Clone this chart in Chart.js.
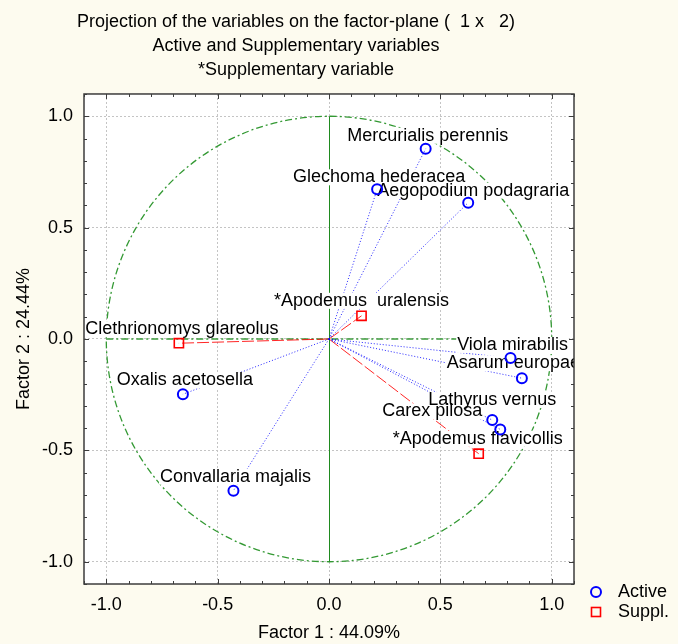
<!DOCTYPE html>
<html>
<head>
<meta charset="utf-8">
<script src="https://cdn.jsdelivr.net/npm/chart.js@4.4.0/dist/chart.umd.min.js"></script>
<style>
  html, body { margin: 0; padding: 0; background: #fdfbef; }
  #wrap { width: 678px; height: 644px; }
</style>
</head>
<body>
<div id="wrap"><canvas id="factorPlane" width="678" height="644"></canvas></div>
<script>
// active variables (factor coordinates)
const activeNames = ['Mercurialis perennis', 'Glechoma hederacea', 'Aegopodium podagraria',
  'Viola mirabilis', 'Asarum europaeum', 'Lathyrus vernus', 'Carex pilosa',
  'Oxalis acetosella', 'Convallaria majalis'];
const activeF1 = [0.434, 0.216, 0.625, 0.815, 0.866, 0.733, 0.769, -0.656, -0.429];
const activeF2 = [0.854, 0.672, 0.612, -0.085, -0.176, -0.364, -0.406, -0.248, -0.681];

// supplementary variables
const supplNames = ['Clethrionomys glareolus', '*Apodemus  uralensis', '*Apodemus flavicollis'];
const supplF1 = [-0.674, 0.146, 0.672];
const supplF2 = [-0.019, 0.104, -0.515];

const seriesNames = ['Active', 'Suppl.'];
const tickValues = [-1.0, -0.5, 0.0, 0.5, 1.0];
const tickLabels = ['-1.0', '-0.5', '0.0', '0.5', '1.0'];
const titleLines = ['Projection of the variables on the factor-plane (  1 x   2)',
  'Active and Supplementary variables', '*Supplementary variable'];
const xTitle = 'Factor 1 : 44.09%';
const yTitle = 'Factor 2 : 24.44%';

// label placement relative to the marker (pixels)
const activeLabelOffsets = [[2, -13], [2, -12], [5, -12], [2, -13], [4, -15], [0, -20], [-68, -18], [2, -14], [2, -14]];
const supplLabelOffsets = [[3, -14], [0, -15], [-1, -15]];

const FONT = '"Liberation Sans", Arial, sans-serif';
const BLUE = '#0000ff';
const RED = '#ff0000';

const vec = (f1, f2, i) => [{ x: 0, y: 0 }, { x: f1[i], y: f2[i] }];

const lineSets = [];
activeNames.forEach((n, i) => lineSets.push({
  label: n, data: vec(activeF1, activeF2, i), showLine: true,
  borderColor: 'rgba(0,0,255,0.85)', borderWidth: 1, borderDash: [1, 2], pointRadius: 0
}));
supplNames.forEach((n, i) => lineSets.push({
  label: n, data: vec(supplF1, supplF2, i), showLine: true,
  borderColor: 'rgba(255,0,0,0.85)', borderWidth: 1, borderDash: [12, 3], pointRadius: 0
}));

const pointSets = [
  { label: seriesNames[0], data: activeF1.map((v, i) => ({ x: v, y: activeF2[i] })),
    pointStyle: 'circle', pointRadius: 5, pointBorderWidth: 2,
    borderColor: BLUE, backgroundColor: 'rgba(0,0,0,0)', showLine: false },
  { label: seriesNames[1], data: supplF1.map((v, i) => ({ x: v, y: supplF2[i] })),
    pointStyle: 'rect', pointRadius: 6.5, pointBorderWidth: 1.6,
    borderColor: RED, backgroundColor: 'rgba(0,0,0,0)', showLine: false }
];

const tickFont = { family: FONT, size: 18 };

const plotDecor = {
  id: 'plotDecor',
  beforeDraw(chart) {
    const { ctx, chartArea: a } = chart;
    ctx.save();
    ctx.fillStyle = '#fdfbef';
    ctx.fillRect(0, 0, chart.width, chart.height);
    ctx.fillStyle = '#ffffff';
    ctx.fillRect(a.left, a.top, a.right - a.left, a.bottom - a.top);
    ctx.restore();
  },
  beforeDatasetsDraw(chart) {
    const { ctx, scales: { x, y } } = chart;
    const cx = x.getPixelForValue(0), cy = y.getPixelForValue(0);
    const rx = x.getPixelForValue(1) - cx, ry = cy - y.getPixelForValue(1);
    ctx.save();
    // unit circle
    ctx.strokeStyle = '#339933';
    ctx.lineWidth = 1.3;
    ctx.setLineDash([7, 3, 2, 3]);
    ctx.beginPath();
    ctx.ellipse(cx, cy, rx, ry, 0, 0, Math.PI * 2);
    ctx.stroke();
    // horizontal axis through origin
    ctx.strokeStyle = '#3c9c3c';
    ctx.lineWidth = 1.4;
    ctx.beginPath();
    ctx.moveTo(x.getPixelForValue(-1), cy);
    ctx.lineTo(x.getPixelForValue(1), cy);
    ctx.stroke();
    // vertical axis through origin
    ctx.setLineDash([]);
    ctx.strokeStyle = '#1f8a1f';
    ctx.lineWidth = 1;
    ctx.beginPath();
    ctx.moveTo(Math.round(cx) + 0.5, y.getPixelForValue(1));
    ctx.lineTo(Math.round(cx) + 0.5, y.getPixelForValue(-1));
    ctx.stroke();
    ctx.restore();
  },
  beforeDatasetDraw(chart, args) {
    if (args.index !== 1) return;
    const { ctx, chartArea: a, scales: { x, y } } = chart;
    ctx.save();
    ctx.beginPath();
    ctx.rect(a.left, a.top, a.right - a.left, a.bottom - a.top);
    ctx.clip();
    ctx.font = '18px ' + FONT;
    ctx.textAlign = 'center';
    ctx.textBaseline = 'middle';
    const items = [];
    activeNames.forEach((n, i) => items.push([n, activeF1[i], activeF2[i], activeLabelOffsets[i]]));
    supplNames.forEach((n, i) => items.push([n, supplF1[i], supplF2[i], supplLabelOffsets[i]]));
    const placed = items.map(([n, f1, f2, o]) => [n, x.getPixelForValue(f1) + o[0], y.getPixelForValue(f2) + o[1]]);
    ctx.fillStyle = '#ffffff';
    placed.forEach(([n, px, py]) => {
      const w = ctx.measureText(n).width;
      ctx.fillRect(px - w / 2 - 1, py - 8, w + 2, 16);
    });
    ctx.fillStyle = '#000000';
    placed.forEach(([n, px, py]) => ctx.fillText(n, px, py));
    ctx.restore();
  },
  afterDraw(chart) {
    const { ctx, chartArea: a, scales: { x, y } } = chart;
    ctx.save();
    ctx.strokeStyle = '#3c3c3c';
    ctx.lineWidth = 1;
    // inward ticks every 0.1 on all four sides
    ctx.beginPath();
    for (let k = -11; k <= 11; k++) {
      const v = k / 10;
      const len = k % 5 === 0 ? 5 : 3;
      const px = Math.round(x.getPixelForValue(v)) + 0.5;
      const py = Math.round(y.getPixelForValue(v)) + 0.5;
      ctx.moveTo(px, a.bottom); ctx.lineTo(px, a.bottom - len);
      ctx.moveTo(px, a.top); ctx.lineTo(px, a.top + len);
      ctx.moveTo(a.left, py); ctx.lineTo(a.left + len, py);
      ctx.moveTo(a.right, py); ctx.lineTo(a.right - len, py);
    }
    ctx.stroke();
    ctx.lineWidth = 1.5;
    ctx.strokeRect(a.left, a.top, a.right - a.left, a.bottom - a.top);

    // legend
    const lx = a.right + 22, ly = a.bottom + 8;
    ctx.lineWidth = 2;
    ctx.strokeStyle = BLUE;
    ctx.beginPath();
    ctx.arc(lx, ly, 5, 0, Math.PI * 2);
    ctx.stroke();
    ctx.lineWidth = 1.6;
    ctx.strokeStyle = RED;
    ctx.strokeRect(lx - 4.5, ly + 20 - 4.5, 9, 9);
    ctx.fillStyle = '#000';
    ctx.font = '18px ' + FONT;
    ctx.textAlign = 'left';
    ctx.textBaseline = 'middle';
    ctx.fillText(seriesNames[0], lx + 22, ly);
    ctx.fillText(seriesNames[1], lx + 22, ly + 20);
    ctx.restore();
  }
};

const setTicks = scale => { scale.ticks = tickValues.map(v => ({ value: v })); };

new Chart(document.getElementById('factorPlane'), {
  type: 'scatter',
  data: { datasets: pointSets.concat(lineSets) },
  options: {
    responsive: false,
    animation: false,
    events: [],
    layout: { padding: { left: 18, right: 104, top: 0, bottom: 0 } },
    plugins: {
      legend: { display: false },
      tooltip: { enabled: false },
      title: {
        display: true,
        text: titleLines,
        color: '#000',
        font: { family: FONT, size: 18, weight: 'normal', lineHeight: 1.333 },
        padding: { top: 10, bottom: 12 }
      }
    },
    scales: {
      x: {
        type: 'linear', position: 'bottom', min: -1.1, max: 1.1,
        afterBuildTicks: setTicks,
        afterFit: s => { s.height = 60; },
        ticks: { callback: (v, i) => tickLabels[i], font: tickFont, color: '#000', padding: 10, maxRotation: 0, autoSkip: false },
        grid: { color: '#c4c4c4', drawTicks: false },
        border: { display: false, dash: [2, 2] },
        title: { display: true, text: xTitle, color: '#000', font: tickFont, padding: { top: 0, bottom: 0 } }
      },
      y: {
        type: 'linear', position: 'left', min: -1.1, max: 1.1,
        afterBuildTicks: setTicks,
        afterFit: s => { s.width = 66; },
        ticks: { callback: (v, i) => tickLabels[i], font: tickFont, color: '#000', padding: 11, autoSkip: false },
        grid: { color: '#c4c4c4', drawTicks: false },
        border: { display: false, dash: [2, 2] },
        title: { display: true, text: yTitle, color: '#000', font: tickFont, padding: { top: -5, bottom: 0 } }
      }
    }
  },
  plugins: [plotDecor]
});
</script>
</body>
</html>
